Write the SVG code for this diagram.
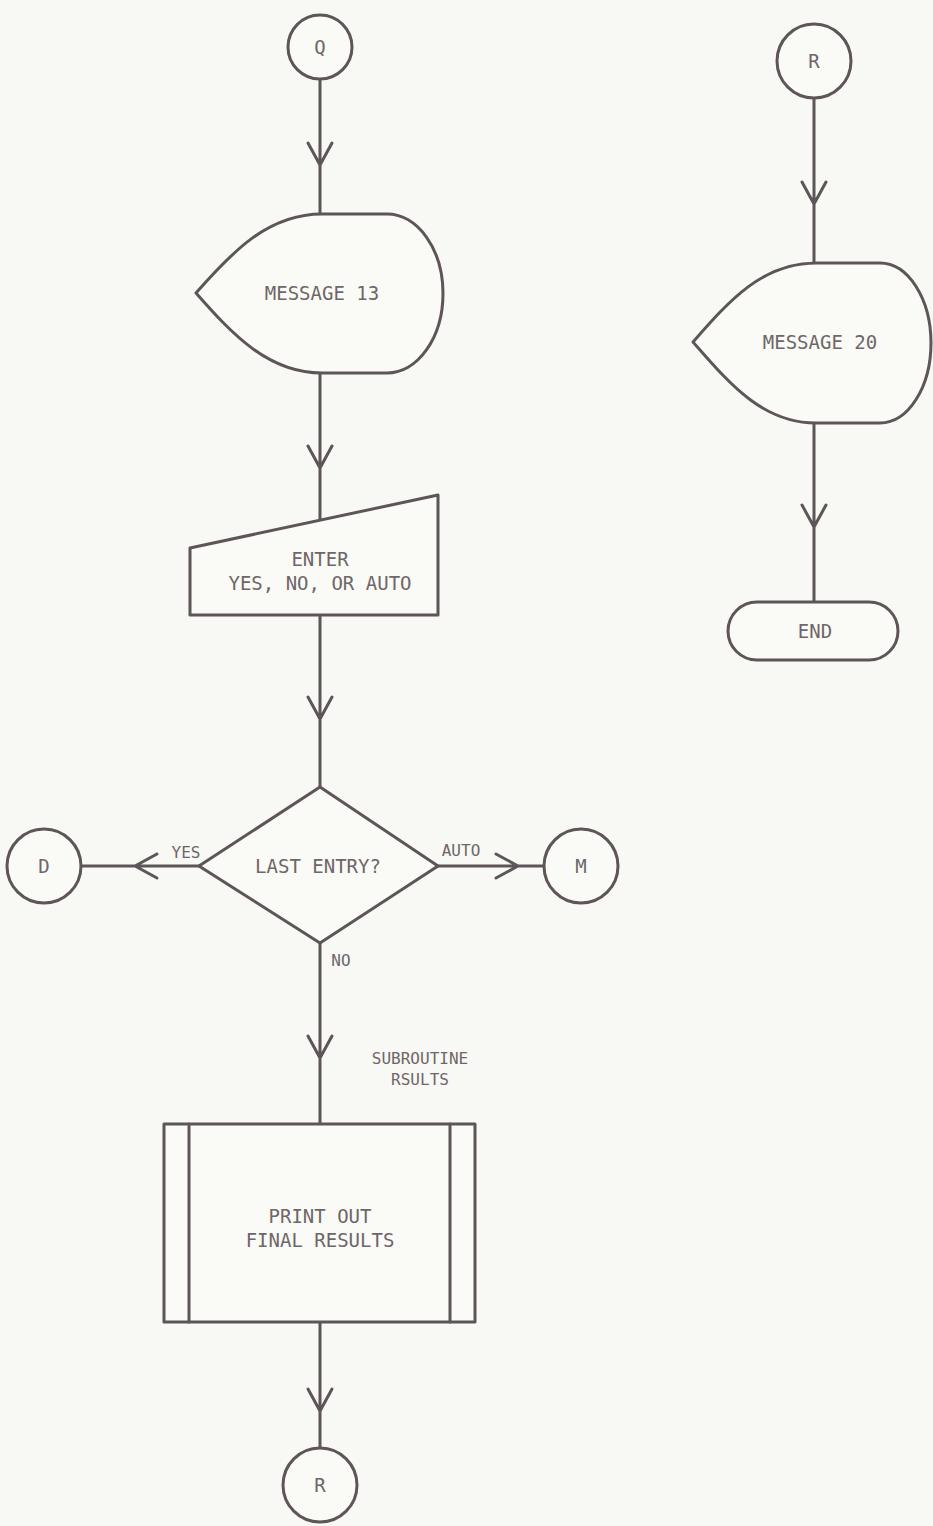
<svg xmlns="http://www.w3.org/2000/svg" width="933" height="1526" viewBox="0 0 933 1526">
<style>
.s{fill:none;stroke:#5d5557;stroke-width:3;stroke-linejoin:round;stroke-linecap:round}
.f{fill:#fafaf6;stroke:#5d5557;stroke-width:3;stroke-linejoin:round}
.t{font-family:"DejaVu Sans Mono","Liberation Mono",monospace;font-size:19px;fill:#6e6668;text-anchor:middle}
</style>
<rect width="933" height="1526" fill="#f8f8f4"/>
<g id="connectors">
<path class="s" d="M320,80V213M308,143L320,165L332,143"/>
<path class="s" d="M320,373V521M308,446L320,468L332,446"/>
<path class="s" d="M320,615V787M308,697L320,719L332,697"/>
<path class="s" d="M199,866H82M157,854L135,866L157,878"/>
<path class="s" d="M438,866H544M496,854L518,866L496,878"/>
<path class="s" d="M320,943V1124M308,1036L320,1058L332,1036"/>
<path class="s" d="M320,1322V1448M308,1389L320,1411L332,1389"/>
<path class="s" d="M814,98V263M802,182L814,204L826,182"/>
<path class="s" d="M814,423V602M802,505L814,527L826,505"/>
<text class="t" x="186" y="858" style="font-size:16px">YES</text>
<text class="t" x="461" y="856" style="font-size:16px">AUTO</text>
<text class="t" x="341" y="966" style="font-size:16px">NO</text>
</g>
<g id="Q"><circle class="f" cx="320" cy="47" r="32"/><text class="t" x="320" y="54">Q</text></g>
<g id="msg13"><path class="f" d="M196,293C232,252 268,214 322,214H387A56,79.5 0 0 1 387,373H322C268,373 232,334 196,293Z"/><text class="t" x="322" y="300">MESSAGE 13</text></g>
<g id="enter"><path class="f" d="M190,548L438,495V615H190Z"/><text class="t" x="320" y="566">ENTER</text><text class="t" x="320" y="590">YES, NO, OR AUTO</text></g>
<g id="decision"><path class="f" d="M320,787L438,866L320,943L199,866Z"/><text class="t" x="318" y="873">LAST ENTRY?</text></g>
<g id="D"><circle class="f" cx="44" cy="866" r="37"/><text class="t" x="44" y="873">D</text></g>
<g id="M"><circle class="f" cx="581" cy="866" r="37"/><text class="t" x="581" y="873">M</text></g>
<g id="print"><rect class="f" x="164" y="1124" width="311" height="198"/><path class="s" d="M189,1124V1322M450,1124V1322"/><text class="t" x="320" y="1223">PRINT OUT</text><text class="t" x="320" y="1247">FINAL RESULTS</text><text class="t" x="420" y="1064" style="font-size:16px">SUBROUTINE</text><text class="t" x="420" y="1085" style="font-size:16px">RSULTS</text></g>
<g id="R2"><circle class="f" cx="320" cy="1485" r="37"/><text class="t" x="320" y="1492">R</text></g>
<g id="R1"><circle class="f" cx="814" cy="61" r="37"/><text class="t" x="814" y="68">R</text></g>
<g id="msg20"><path class="f" d="M693,342C729,301 762,263 816,263H880A51,80 0 0 1 880,423H816C762,423 729,383 693,342Z"/><text class="t" x="820" y="349">MESSAGE 20</text></g>
<g id="end"><rect class="f" x="728" y="602" width="170" height="58" rx="29"/><text class="t" x="815" y="638">END</text></g>
</svg>
